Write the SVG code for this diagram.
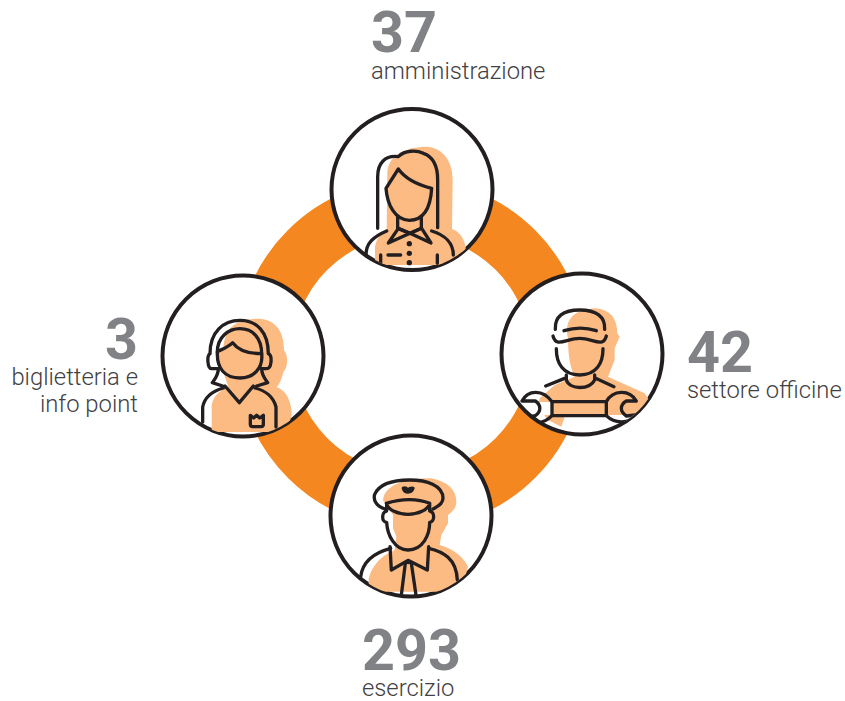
<svg xmlns="http://www.w3.org/2000/svg" width="845" height="701" viewBox="0 0 845 701">
<style>
.num{font-family:Roboto,"Liberation Sans",sans-serif;font-weight:700;font-size:57.5px;fill:#808285}
.lab{font-family:Roboto,"Liberation Sans",sans-serif;font-weight:300;font-size:23.8px;fill:#414042}
.disc{fill:#fff;stroke:#231f20;stroke-width:4}
.peach{fill:#fdbb84;stroke:none}
.ln{fill:none;stroke:#231f20;stroke-width:10;stroke-linecap:round;stroke-linejoin:round}
.face{fill:#fdbb84;stroke:#231f20;stroke-width:10;stroke-linecap:round;stroke-linejoin:round}
.dot{fill:#231f20}
</style>
<defs>
<clipPath id="c1"><circle cx="247" cy="253" r="240"/></clipPath>
<clipPath id="c2"><circle cx="249" cy="252" r="240"/></clipPath>
<clipPath id="c3"><circle cx="252" cy="252" r="240"/></clipPath>
<clipPath id="c4"><circle cx="249" cy="243" r="240"/></clipPath>
</defs>
<g id="connectors"><circle cx="411.5" cy="354" r="147" fill="none" stroke="#f58720" stroke-width="56"/></g>
<g id="node-top">
<circle class="disc" cx="412" cy="189.5" r="80.5"/>
<g transform="translate(330 105) scale(.33333)" clip-path="url(#c1)">
<path class="peach" d="M135 480V425C140 395 160 380 170 372L172 200C176 150 230 125 290 125C340 128 368 170 368 225L366 372C392 380 408 410 408 440L380 480Z"/>
<path class="face" d="M205 192C225 220 265 240 305 250C302 300 285 345 238 346C195 345 172 300 168 250Z"/>
<path class="ln" d="M143 370V215C143 175 165 150 205 155C225 135 260 135 280 145C310 155 323 185 323 225V368"/>
<path class="ln" d="M203 335V370L240 385L274 370V335"/>
<path class="ln" d="M108 450C108 415 130 395 170 378M370 450C370 415 345 390 305 378"/>
<path class="ln" d="M240 385L205 370L175 414L240 385L275 370L303 414Z"/>
<path class="ln" d="M152 450V475M322 450V475M174 450H212"/>
<circle class="dot" cx="238" cy="416" r="8"/><circle class="dot" cx="238" cy="445" r="8"/><circle class="dot" cx="238" cy="473" r="8"/>
</g>
</g>
<g id="node-left">
<circle class="disc" cx="243" cy="356" r="80.5"/>
<g transform="translate(160 272) scale(.33333)" clip-path="url(#c2)">
<path class="peach" d="M155 480V400C160 370 180 355 205 345L190 300C185 200 190 140 300 140C350 145 372 180 372 235C385 250 385 285 370 300C365 320 360 335 350 345C380 355 395 390 395 430L380 480Z"/>
<path class="face" d="M218 212C235 235 265 245 305 245C310 290 280 318 240 318C195 318 170 290 172 240C175 235 200 230 218 212Z"/>
<path class="ln" d="M172 240C172 195 205 170 240 170C280 170 305 200 305 245"/>
<path class="ln" d="M150 245C150 180 190 145 240 145C290 145 325 180 325 245M150 245C140 250 142 290 155 290H172M325 245C338 250 335 290 320 290H305"/>
<path class="ln" d="M175 290C175 310 165 320 157 332L188 342M305 290C305 310 315 320 323 332L290 342"/>
<path class="ln" d="M195 342L238 392L280 342"/>
<path class="ln" d="M128 450V405C135 370 165 355 190 348M348 465V405C340 375 315 355 285 348"/>
<path class="ln" d="M271 430L281 438L290 430L299 438L310 430V457Q310 464 303 464H278Q271 464 271 457Z"/>
</g>
</g>
<g id="node-right">
<circle class="disc" cx="582" cy="354" r="80.5"/>
<g transform="translate(498 270) scale(.33333)" clip-path="url(#c3)">
<path class="peach" d="M210 205C200 160 215 120 290 115C340 118 358 150 358 190L365 200L350 235L350 270L330 320L385 345L440 370L460 400L410 440L200 440L190 470L150 450L120 410L125 385L170 345L230 320C215 290 210 250 210 205Z"/>
<path fill="#fff" d="M112 396L162 396V435L112 435C128 425 128 405 112 396ZM325 435L385 435L412 435C395 462 350 462 325 435Z"/>
<path class="ln" d="M175 236C175 280 195 315 245 315C295 315 315 280 315 236"/>
<path class="ln" d="M172 178C170 140 195 120 245 120C295 120 322 140 320 178M198 182C230 172 265 172 295 182"/>
<path class="ln" d="M165 198C175 235 205 205 245 205C285 205 315 235 325 198"/>
<path class="ln" d="M205 315V330C215 360 275 360 290 330V315M143 348L200 325M348 350L293 325"/>
<path class="ln" d="M72 393C90 358 135 358 162 395H325C345 358 395 358 415 393H385C365 405 365 425 385 438L412 435C395 462 350 462 325 437H162C135 465 100 462 82 442L112 437C130 425 130 405 112 393Z"/>
<path class="ln" d="M162 395V437M325 395V437"/>
</g>
</g>
<g id="node-bottom">
<circle class="disc" cx="411" cy="516" r="80.5"/>
<g transform="translate(328 435) scale(.33333)" clip-path="url(#c4)">
<path class="peach" d="M122 470V430C140 375 170 360 200 345L205 305L195 280V240L165 195C170 150 230 130 310 130C360 140 385 165 385 200C385 225 365 235 360 240V265L340 300L335 330C375 340 405 365 420 395L400 470Z"/>
<path class="ln" d="M172 222C145 215 135 195 140 178C155 145 200 135 245 135C295 135 345 150 345 190C345 205 330 215 315 222"/>
<path class="ln" d="M175 205C220 190 270 190 305 205C300 225 270 238 240 238C210 238 180 225 175 205ZM176 205V225M305 205V225"/>
<path class="ln" d="M226 160C230 175 250 175 255 160C250 158 245 160 240 165C235 160 230 158 226 160Z"/>
<path class="ln" d="M176 228C160 230 160 262 176 262C178 300 200 345 240 345C285 345 305 300 305 262C320 262 322 230 305 228"/>
<path class="ln" d="M186 335L190 405L240 376L298 405L302 335"/>
<path class="ln" d="M188 340C150 350 105 370 98 425M302 340C345 350 385 370 388 435"/>
<path class="ln" d="M232 385L220 480M250 385L264 480"/>
<circle class="dot" cx="241" cy="381" r="7"/>
</g>
</g>
<g id="labels">
<text class="num" x="371" y="52">37</text>
<text class="lab" x="371" y="79">amministrazione</text>
<text class="num" x="138" y="359" text-anchor="end">3</text>
<text class="lab" x="138" y="385" text-anchor="end">biglietteria e</text>
<text class="lab" x="138" y="412" text-anchor="end">info point</text>
<text class="num" x="687" y="372">42</text>
<text class="lab" x="687" y="398">settore officine</text>
<text class="num" x="362" y="670">293</text>
<text class="lab" x="362" y="696">esercizio</text>
</g>
</svg>
